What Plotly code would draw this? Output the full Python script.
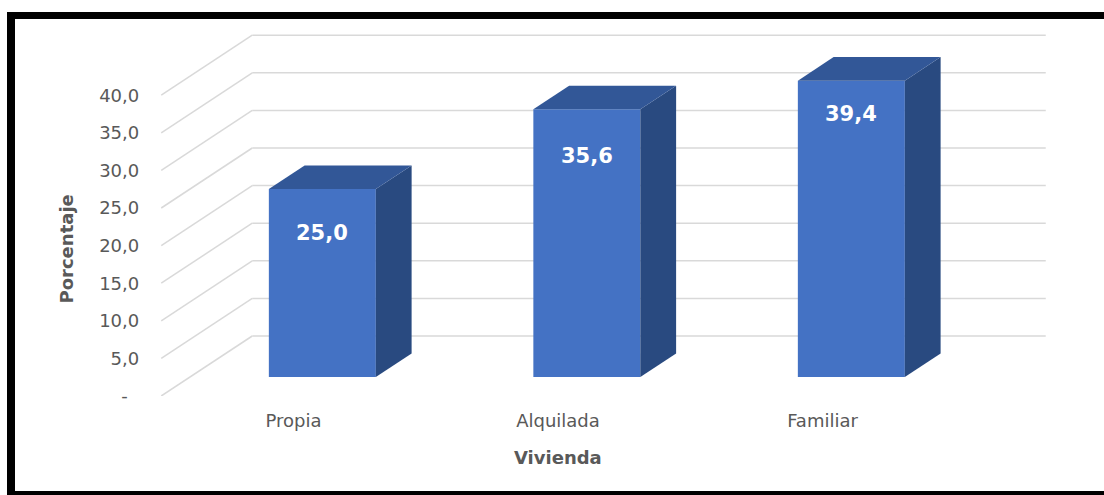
import plotly.graph_objects as go

# ---------------- data ----------------
categories = ["Propia", "Alquilada", "Familiar"]
values = [25.0, 35.6, 39.4]
value_labels = ["25,0", "35,6", "39,4"]
y_tickvals = [0, 5, 10, 15, 20, 25, 30, 35, 40]
y_ticktext = ["-\u2007", "5,0", "10,0", "15,0", "20,0", "25,0", "30,0", "35,0", "40,0"]
x_title = "Vivienda"
y_title = "Porcentaje"

# ---------------- geometry / style ----------------
W, H = 1104, 495
PX_PER_CAT = 264.5          # horizontal pixels per category step
PX_PER_UNIT = 7.52          # vertical pixels per percentage point
X0_PX = 293.5               # pixel x of first category on the front plane
Y0_PX = 396                 # pixel y of value 0 on the front plane
DX = 91 / PX_PER_CAT        # oblique depth shift (x units) front->back wall
DY = 60 / PX_PER_UNIT       # oblique depth shift (y units) front->back wall
D0, D1 = 0.317, 0.71        # bar depth span (fraction of floor depth)
BAR_W = 0.4045
label_drop_px = [44, 47, 33]

FRONT = "#4472C4"
TOP = "#325797"
SIDE = "#294A80"
GRID = "#D9D9D9"
TXT = "#595959"
FONT = "DejaVu Sans"

fig = go.Figure()

# front faces of the bars
xs_front = [i + D0 * DX for i in range(len(categories))]
fig.add_trace(go.Bar(
    x=xs_front, y=values, base=D0 * DY, width=BAR_W,
    marker=dict(color=FRONT, line=dict(width=0)),
    hoverinfo="skip", showlegend=False,
))

# top and side faces
ddx = (D1 - D0) * DX
ddy = (D1 - D0) * DY
for i, v in enumerate(values):
    xl = xs_front[i] - BAR_W / 2
    xr = xs_front[i] + BAR_W / 2
    b = D0 * DY
    t = b + v
    fig.add_trace(go.Scatter(
        x=[xr, xr, xr + ddx, xr + ddx, xr],
        y=[b, t, t + ddy, b + ddy, b],
        fill="toself", fillcolor=SIDE, mode="lines", line=dict(width=0, color=SIDE),
        hoverinfo="skip", showlegend=False, cliponaxis=False,
    ))
    fig.add_trace(go.Scatter(
        x=[xl, xr, xr + ddx, xl + ddx, xl],
        y=[t, t, t + ddy, t + ddy, t],
        fill="toself", fillcolor=TOP, mode="lines", line=dict(width=0, color=TOP),
        hoverinfo="skip", showlegend=False, cliponaxis=False,
    ))

# gridlines: left side wall diagonals + back wall horizontals
shapes = []
x_left = -0.5
x_right = len(categories) - 0.5
for v in y_tickvals:
    shapes.append(dict(type="line", xref="x", yref="y", layer="below",
                       x0=x_left, y0=v, x1=x_left + DX, y1=v + DY,
                       line=dict(color=GRID, width=1.5)))
    shapes.append(dict(type="line", xref="x", yref="y", layer="below",
                       x0=x_left + DX, y0=v + DY, x1=x_right + DX, y1=v + DY,
                       line=dict(color=GRID, width=1.5)))

# black frame (top, left, bottom)
PH = Y0_PX  # plot-area height in px (top margin 0)
def py(px):
    return (PH - px) / PH
shapes += [
    dict(type="rect", xref="paper", yref="paper", x0=7 / W, x1=1.0,
         y0=py(19), y1=py(12), fillcolor="black", line=dict(width=0), layer="above"),
    dict(type="rect", xref="paper", yref="paper", x0=7 / W, x1=15 / W,
         y0=py(497), y1=py(12), fillcolor="black", line=dict(width=0), layer="above"),
    dict(type="rect", xref="paper", yref="paper", x0=7 / W, x1=1.0,
         y0=py(497), y1=py(491), fillcolor="black", line=dict(width=0), layer="above"),
]

annotations = []
for i, v in enumerate(values):
    annotations.append(dict(
        x=xs_front[i], y=D0 * DY + v, xref="x", yref="y",
        xanchor="center", yanchor="middle",
        text="<b>" + value_labels[i] + "</b>", showarrow=False,
        yshift=-label_drop_px[i],
        font=dict(family=FONT, size=21, color="white"),
    ))
annotations.append(dict(
    x=65.5 / W, y=py(249), xref="paper", yref="paper",
    xanchor="center", yanchor="middle",
    text="<b>" + y_title + "</b>", textangle=-90, showarrow=False,
    font=dict(family=FONT, size=18, color=TXT),
))
annotations.append(dict(
    x=(len(categories) - 1) / 2, y=py(457), xref="x", yref="paper",
    xanchor="center", yanchor="middle",
    text="<b>" + x_title + "</b>", showarrow=False,
    font=dict(family=FONT, size=18, color=TXT),
))

fig.update_layout(
    width=W, height=H,
    margin=dict(l=0, r=0, t=0, b=H - Y0_PX, pad=0),
    paper_bgcolor="white", plot_bgcolor="white",
    showlegend=False,
    shapes=shapes, annotations=annotations,
    xaxis=dict(
        range=[-X0_PX / PX_PER_CAT, (W - X0_PX) / PX_PER_CAT],
        tickvals=list(range(len(categories))), ticktext=categories,
        showgrid=False, zeroline=False, showline=False, ticks="",
        ticklabelstandoff=12,
        tickfont=dict(family=FONT, size=18, color=TXT),
        fixedrange=True,
    ),
    yaxis=dict(
        range=[0, Y0_PX / PX_PER_UNIT],
        anchor="free", position=(X0_PX - 0.5 * PX_PER_CAT) / W,
        tickvals=y_tickvals, ticktext=y_ticktext,
        showgrid=False, zeroline=False, showline=False, ticks="",
        ticklabelstandoff=22,
        tickfont=dict(family=FONT, size=18, color=TXT),
        fixedrange=True,
    ),
)

fig.write_html("out.html", config={"displayModeBar": False},
               post_script="document.body.style.margin='0';")
